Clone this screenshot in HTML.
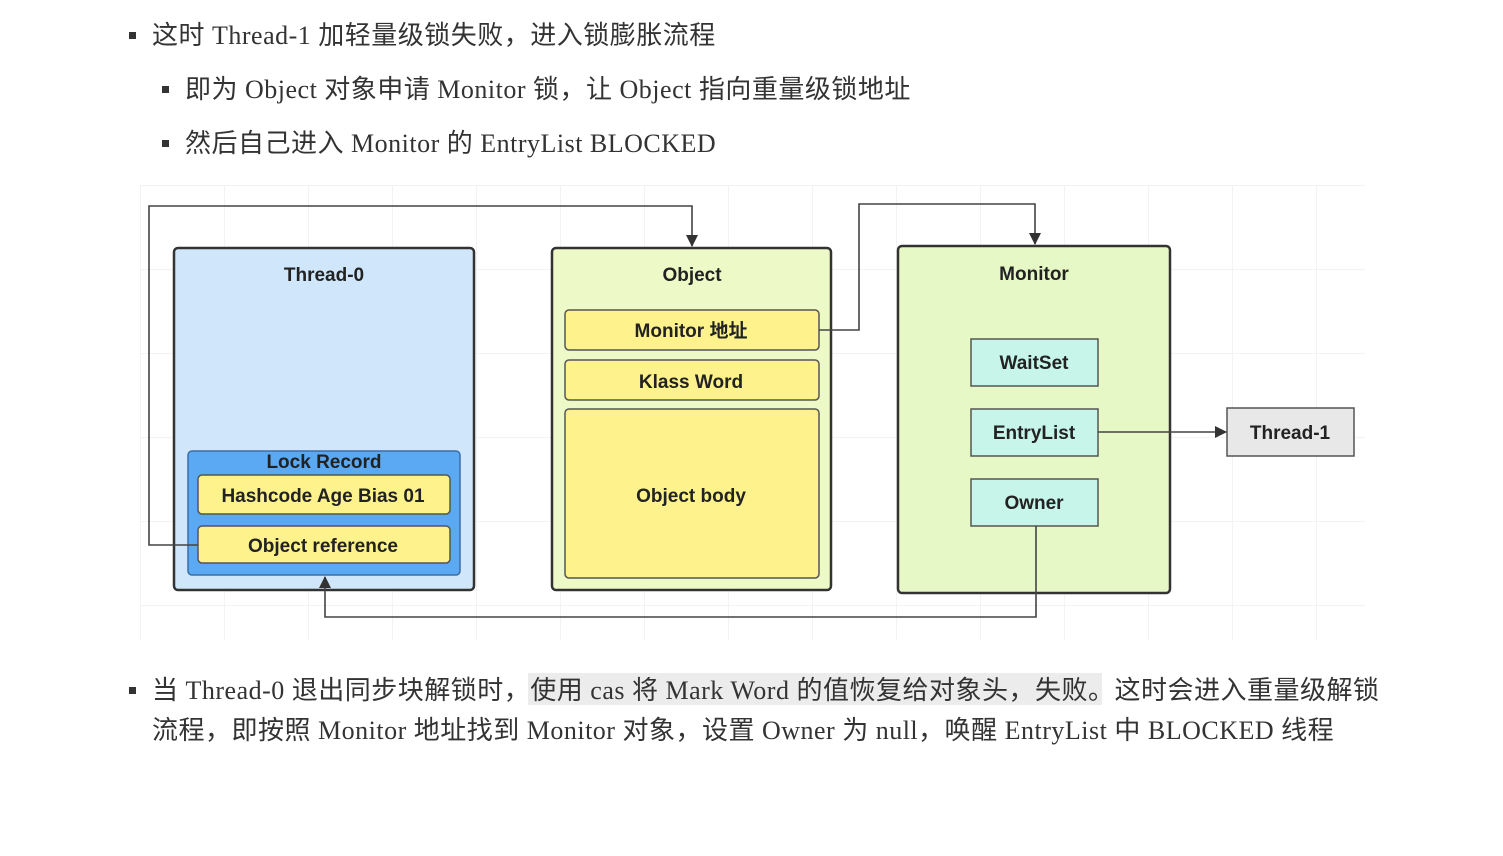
<!DOCTYPE html>
<html><head><meta charset="utf-8">
<style>
html,body{margin:0;padding:0;background:#fff;width:1503px;height:856px;overflow:hidden;position:relative}
.t{position:absolute;white-space:nowrap;font-family:"Liberation Serif","Noto Sans CJK SC",serif;font-size:26px;color:#333;line-height:30px;letter-spacing:0.5px}
.b{position:absolute;width:7px;height:7px;background:#333}
svg{position:absolute;left:0;top:0}
svg text{font-family:"Liberation Sans","Noto Sans CJK SC",sans-serif;font-weight:bold;font-size:19px;fill:#222;text-anchor:middle}
</style></head><body>
<div class="b" style="left:129px;top:32px"></div>
<div class="t" style="left:152px;top:21px">这时 Thread-1 加轻量级锁失败，进入锁膨胀流程</div>
<div class="b" style="left:162px;top:86px"></div>
<div class="t" style="left:185px;top:75px">即为 Object 对象申请 Monitor 锁，让 Object 指向重量级锁地址</div>
<div class="b" style="left:162px;top:140px"></div>
<div class="t" style="left:185px;top:129px">然后自己进入 Monitor 的 EntryList BLOCKED</div>

<div style="position:absolute;left:528px;top:673px;width:574px;height:32px;background:#ececec"></div>
<div class="b" style="left:129px;top:687px"></div>
<div class="t" style="left:152px;top:676px">当 Thread-0 退出同步块解锁时，使用 cas 将 Mark Word 的值恢复给对象头，失败。这时会进入重量级解锁</div>
<div class="t" style="left:152px;top:716px">流程，即按照 Monitor 地址找到 Monitor 对象，设置 Owner 为 null，唤醒 EntryList 中 BLOCKED 线程</div>

<svg width="1503" height="856" viewBox="0 0 1503 856">
<defs>
<pattern id="g" width="84" height="84" patternUnits="userSpaceOnUse" x="140" y="185">
<path d="M0 0H84M0 0V84" stroke="#f3f3f3" stroke-width="2" fill="none"/>
</pattern>
<marker id="a" markerWidth="12" markerHeight="12" refX="11" refY="6" orient="auto" markerUnits="userSpaceOnUse" viewBox="0 0 12 12">
<path d="M0,0 L12,6 L0,12 z" fill="#333"/>
</marker>
</defs>
<rect x="140" y="185" width="1225" height="455" fill="url(#g)"/>
<rect x="174" y="248" width="300" height="342" rx="4" fill="#cfe6fb" stroke="#333" stroke-width="2.5"/>
<text x="324" y="281">Thread-0</text>
<rect x="188" y="451" width="272" height="124" rx="4" fill="#5aa9f2" stroke="#3a6fa8" stroke-width="1.5"/>
<text x="324" y="468">Lock Record</text>
<rect x="198" y="475" width="252" height="39" rx="4" fill="#fdf28c" stroke="#555" stroke-width="1.5"/>
<text x="323" y="502">Hashcode Age Bias 01</text>
<rect x="198" y="526" width="252" height="37" rx="4" fill="#fdf28c" stroke="#555" stroke-width="1.5"/>
<text x="323" y="552">Object reference</text>
<rect x="552" y="248" width="279" height="342" rx="4" fill="#eef9c8" stroke="#333" stroke-width="2.5"/>
<text x="692" y="281">Object</text>
<rect x="565" y="310" width="254" height="40" rx="4" fill="#fdf28c" stroke="#555" stroke-width="1.5"/>
<text x="691" y="337">Monitor 地址</text>
<rect x="565" y="360" width="254" height="40" rx="4" fill="#fdf28c" stroke="#555" stroke-width="1.5"/>
<text x="691" y="388">Klass Word</text>
<rect x="565" y="409" width="254" height="169" rx="4" fill="#fdf28c" stroke="#555" stroke-width="1.5"/>
<text x="691" y="502">Object body</text>
<rect x="898" y="246" width="272" height="347" rx="4" fill="#e6f8c6" stroke="#333" stroke-width="2.5"/>
<text x="1034" y="280">Monitor</text>
<rect x="971" y="339" width="127" height="47" fill="#c8f5ea" stroke="#555" stroke-width="1.5"/>
<text x="1034" y="369">WaitSet</text>
<rect x="971" y="409" width="127" height="47" fill="#c8f5ea" stroke="#555" stroke-width="1.5"/>
<text x="1034" y="439">EntryList</text>
<rect x="971" y="479" width="127" height="47" fill="#c8f5ea" stroke="#555" stroke-width="1.5"/>
<text x="1034" y="509">Owner</text>
<rect x="1227" y="408" width="127" height="48" fill="#e8e8e8" stroke="#555" stroke-width="1.5"/>
<text x="1290" y="439">Thread-1</text>
<g fill="none" stroke="#444" stroke-width="1.6">
<path d="M198 545 H149 V206 H692 V246" marker-end="url(#a)"/>
<path d="M819 330 H859 V204 H1035 V244" marker-end="url(#a)"/>
<path d="M1098 432 H1226" marker-end="url(#a)"/>
<path d="M1036 526 V617 H325 V577" marker-end="url(#a)"/>
</g>
</svg>
</body></html>
